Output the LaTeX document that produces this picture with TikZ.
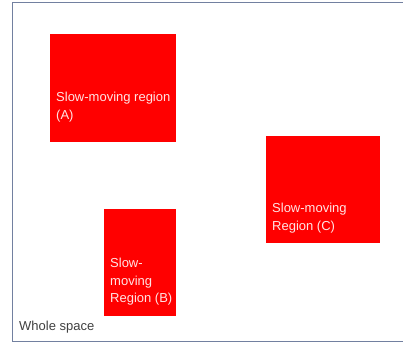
\documentclass[tikz,border=0pt]{standalone}
\usepackage{fontspec}
\setmainfont{Liberation Sans}
\usepackage{xcolor}
\definecolor{framegray}{HTML}{7280A0}
\definecolor{labelpink}{HTML}{FFE4E4}
\begin{document}
\begin{tikzpicture}[
    x=1pt, y=-1pt,
    every node/.style={font=\fontsize{13}{17.5}\selectfont},
    region/.style={fill=red, draw=none},
    regionlabel/.style={anchor=west, align=left, inner sep=0pt, text=labelpink}
]
    \useasboundingbox (0,0) rectangle (403,343);

    % Whole space
    \draw[framegray, line width=1pt] (12.5,2.5) rectangle (405,341);
    \node[anchor=west, inner sep=0pt, text=black!75] (whole) at (19,327) {Whole space};

    % Slow-moving regions
    \path[region] (50,34) rectangle (176,142);
    \node[regionlabel] (labA) at (56,107) {Slow-moving region\\(A)};

    \path[region] (104,209) rectangle (176,316);
    \node[regionlabel] (labB) at (110,282) {Slow-\\moving\\Region (B)};

    \path[region] (266,136) rectangle (380,243);
    \node[regionlabel] (labC) at (272,218) {Slow-moving\\Region (C)};
\end{tikzpicture}
\end{document}
